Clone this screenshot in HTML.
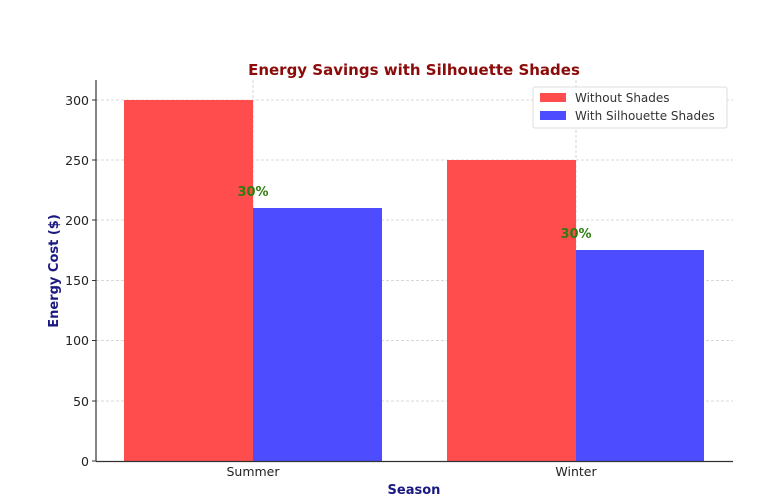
<!DOCTYPE html>
<html><head><meta charset="utf-8"><style>body{margin:0;background:#fff}svg{display:block}</style></head>
<body>
<svg width="761" height="501" viewBox="0 0 761 501" xmlns="http://www.w3.org/2000/svg" font-family="'DejaVu Sans','Liberation Sans',sans-serif">
<g stroke="#ccc" stroke-dasharray="3,2" stroke-width="0.8">
<line x1="96" y1="100" x2="733" y2="100"/><line x1="96" y1="160" x2="733" y2="160"/>
<line x1="96" y1="220" x2="733" y2="220"/><line x1="96" y1="280.5" x2="733" y2="280.5"/>
<line x1="96" y1="340.5" x2="733" y2="340.5"/><line x1="96" y1="401" x2="733" y2="401"/>
<line x1="253" y1="80" x2="253" y2="461"/><line x1="576" y1="80" x2="576" y2="461"/>
</g>
<rect x="124" y="100" width="129" height="361" fill="#ff4d4d"/>
<rect x="253" y="208" width="129" height="253" fill="#4d4dff"/>
<rect x="447" y="160" width="129" height="301" fill="#ff4d4d"/>
<rect x="576" y="250" width="128" height="211" fill="#4d4dff"/>
<g stroke="#333" stroke-width="1.2"><line x1="96" y1="80" x2="96" y2="461.5"/><line x1="96" y1="461.5" x2="733" y2="461.5"/></g>
<g font-size="12.5" fill="#222" text-anchor="end">
<text x="89" y="105">300</text><text x="89" y="165">250</text><text x="89" y="225">200</text>
<text x="89" y="285">150</text><text x="89" y="345">100</text><text x="89" y="406">50</text><text x="89" y="466">0</text>
</g>
<g stroke="#333"><line x1="92" y1="100" x2="96" y2="100"/><line x1="92" y1="160" x2="96" y2="160"/><line x1="92" y1="220" x2="96" y2="220"/><line x1="92" y1="280.5" x2="96" y2="280.5"/><line x1="92" y1="340.5" x2="96" y2="340.5"/><line x1="92" y1="401" x2="96" y2="401"/><line x1="92" y1="461" x2="96" y2="461"/></g>
<g font-size="12.5" fill="#222" text-anchor="middle"><text x="253" y="476">Summer</text><text x="576" y="476">Winter</text></g>
<text x="414" y="494" font-size="13" font-weight="bold" fill="#1a1a80" text-anchor="middle">Season</text>
<text transform="translate(58,271) rotate(-90)" font-size="13" font-weight="bold" fill="#1a1a80" text-anchor="middle">Energy Cost ($)</text>
<text x="414" y="75" font-size="15" font-weight="bold" fill="#8b0a0a" text-anchor="middle">Energy Savings with Silhouette Shades</text>
<g font-size="13" font-weight="bold" fill="#2e7d0e" text-anchor="middle"><text x="253" y="196">30%</text><text x="576" y="238">30%</text></g>
<rect x="533" y="87" width="194" height="41" fill="#fff" stroke="#ddd" rx="2"/>
<rect x="540" y="93" width="26" height="9" fill="#ff4d4d"/><rect x="540" y="111" width="26" height="9" fill="#4d4dff"/>
<g font-size="12" fill="#333"><text x="575" y="102">Without Shades</text><text x="575" y="120">With Silhouette Shades</text></g>
</svg>
</body></html>
